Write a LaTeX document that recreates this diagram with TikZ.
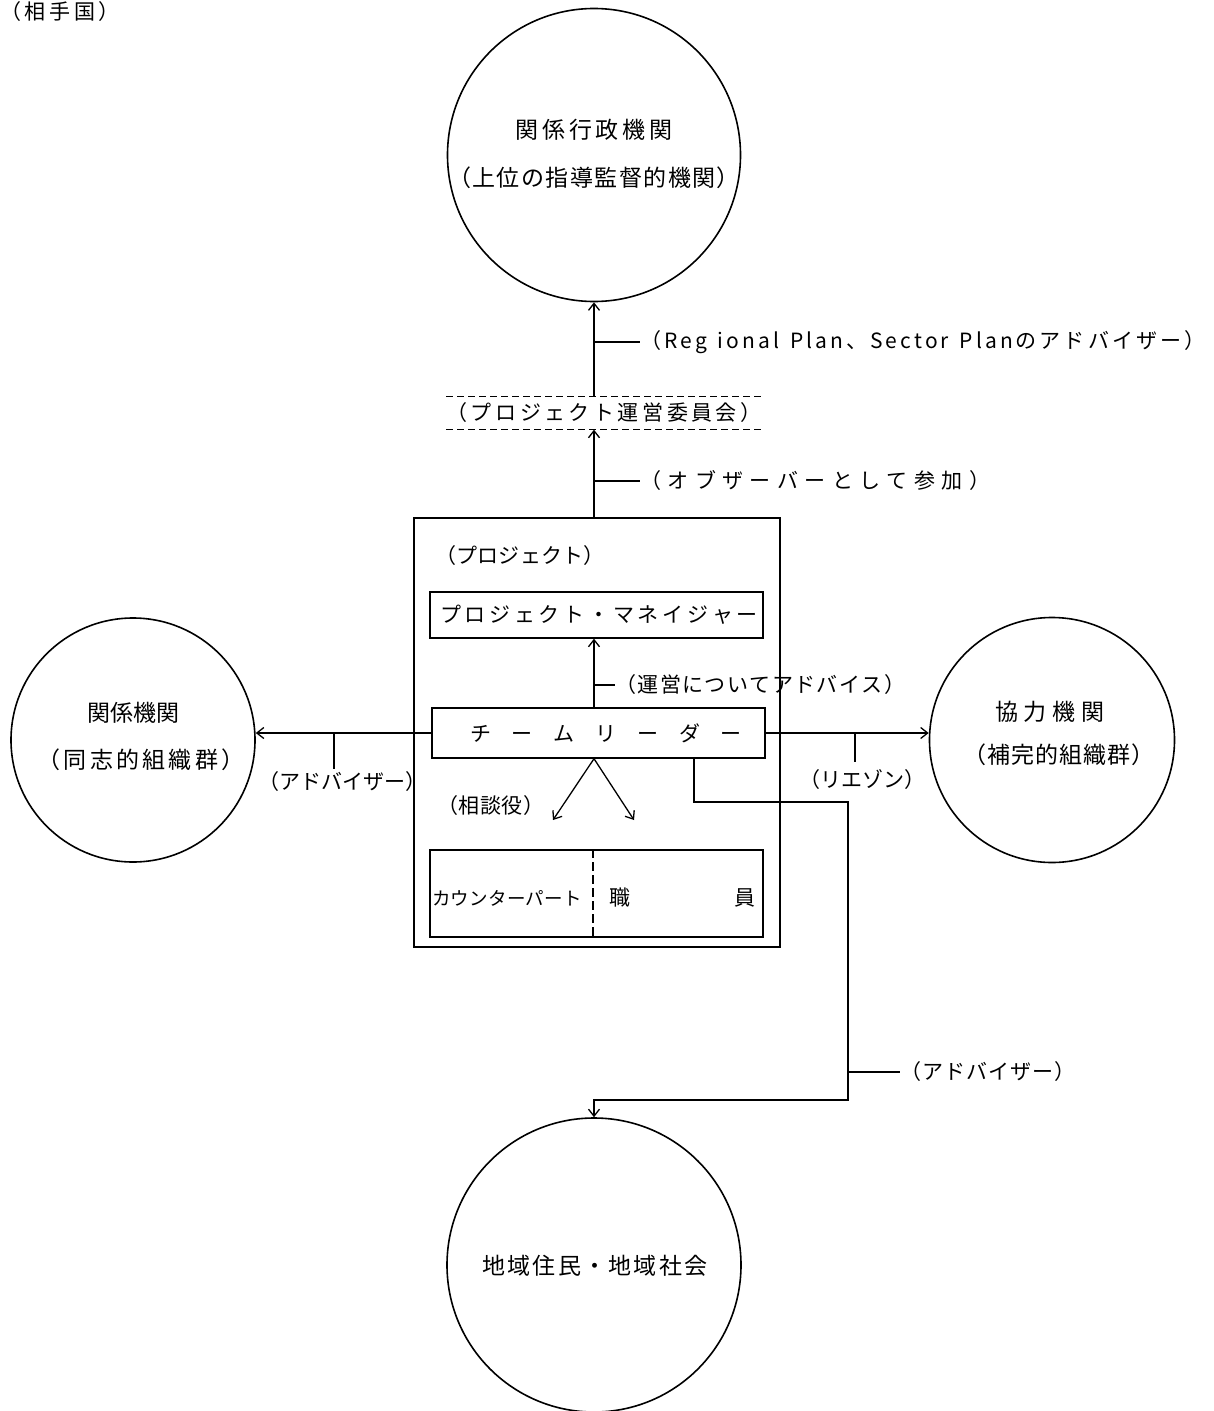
\documentclass[tikz,border=0pt]{standalone}
\usepackage{fontspec}
\newfontfamily\jp{Noto Sans CJK JP}
\usetikzlibrary{arrows.meta}
\def\spreadend{}
\def\spreadaux#1#2{#1\ifx#2\spreadend\else\hfill\expandafter\spreadaux\expandafter#2\fi}
\newcommand\spreadto[2]{\makebox[#1][s]{\spreadaux#2\spreadend}}
\begin{document}
\begin{tikzpicture}[x=1pt,y=-1pt,
  circ/.style={draw, circle, line width=1.6pt, inner sep=0pt},
  box/.style={draw, line width=1.4pt, inner sep=0pt},
  txt/.style={font=\jp\fontsize{21}{25}\selectfont, inner sep=0pt},
  big/.style={font=\jp\fontsize{23}{27}\selectfont, inner sep=0pt},
  sml/.style={font=\jp\fontsize{18.5}{22}\selectfont, inner sep=0pt},
  ln/.style={line width=1.3pt},
  arr/.style={line width=1.3pt, -{Straight Barb[length=7pt,width=11pt,line width=1.3pt]}}]
\useasboundingbox (0,0) rectangle (1213,1411);
\fill[white] (0,0) rectangle (1213,1411);

% header
\node[txt] (hdr) at (60,12) {\spreadto{120pt}{（相手国）}};

% circles
\node[circ, minimum size=293pt] (top) at (594,155) {};
\node[circ, minimum size=244pt] (lc) at (133,740) {};
\node[circ, minimum size=245pt] (rc) at (1052,740) {};
\node[circ, minimum size=294pt] (bc) at (594,1265) {};

\node[big] (topa) at (594,130) {\spreadto{157pt}{関係行政機関}};
\node[big] (topb) at (594,178) {\spreadto{292pt}{（上位の指導監督的機関）}};
\node[big] (lca) at (133,713) {\spreadto{92pt}{関係機関}};
\node[big] (lcb) at (141,760) {\spreadto{207pt}{（同志的組織群）}};
\node[big] (rca) at (1050,712) {\spreadto{110pt}{協力機関}};
\node[big] (rcb) at (1059,755) {\spreadto{192pt}{（補完的組織群）}};
\node[big] (bca) at (595,1266) {\spreadto{225pt}{地域住民・地域社会}};

% project boxes
\node[box, line width=2pt, minimum width=366pt, minimum height=429pt] (pj) at (597,732.5) {};
\node[txt] (pjl) at (520,556) {\spreadto{170pt}{（プロジェクト）}};
\node[box, minimum width=333pt, minimum height=46pt] (pm) at (596.5,615) {};
\node[txt] (pmt) at (599,615) {\spreadto{318pt}{プロジェクト・マネイジャー}};
\node[box, minimum width=333pt, minimum height=50pt] (tl) at (598.5,733) {};
\node[txt] (tlt) at (606,733) {\spreadto{272pt}{チームリーダー}};
\node[box, minimum width=333pt, minimum height=87pt] (cp) at (596.5,893.5) {};
\coordinate (dv) at (593,0);
\draw[ln, dash pattern=on 9pt off 4pt] (cp.north -| dv) -- (cp.south -| dv);
\node[sml] (cpa) at (507,898) {\spreadto{150pt}{カウンターパート}};
\node[txt] (cpb) at (620,898) {職};
\node[txt] (cpc) at (745,898) {員};

% committee
\node[txt, minimum width=315pt, minimum height=33pt] (cmt) at (604,413) {\spreadto{315pt}{（プロジェクト運営委員会）}};
\draw[ln, dash pattern=on 7pt off 4pt] (cmt.north west) -- (cmt.north east);
\draw[ln, dash pattern=on 7pt off 4pt] (cmt.south west) -- (cmt.south east);

% vertical main connectors
\draw[arr] (pj.north -| top.south) -- (cmt.south -| top.south);
\draw[arr] (cmt.north -| top.south) -- (top.south);
\draw[arr] (tl.north -| top.south) -- (pm.south -| top.south);

% labels with ticks on the main line
\node[txt, anchor=west] (l1) at (640,342) {\spreadto{565pt}{（Reg~ional~Plan、Sector~Planのアドバイザー）}};
\draw[ln] (l1.west -| top.south) -- (l1.west);
\node[txt, anchor=west] (l2) at (640,481) {\spreadto{350pt}{（オブザーバーとして参加）}};
\draw[ln] (l2.west -| top.south) -- (l2.west);
\node[txt, anchor=west] (l3) at (615,685) {\spreadto{290pt}{（運営についてアドバイス）}};
\draw[ln] (l3.west -| top.south) -- (l3.west);

% left connector
\draw[arr] (tl.west) -- (tl.west -| lc.east);
\node[txt] (la) at (334,782) {\spreadto{152pt}{（アドバイザー）}};
\draw[ln] (la.north |- tl.west) -- ([yshift=3pt]la.north);

% right connector
\draw[arr] (tl.east) -- (tl.east -| rc.west);
\node[txt] (lr) at (862,780) {\spreadto{125pt}{（リエゾン）}};
\coordinate (rk) at (855,0);
\draw[ln] (tl.east -| rk) -- ([yshift=8pt]lr.north -| rk);

% consultant arrows
\coordinate (sa) at (553,820);
\coordinate (sb) at (634,820);
\draw[arr] (tl.south -| top.south) -- (sa);
\draw[arr] (tl.south -| top.south) -- (sb);
\node[txt] (ls) at (491,806) {\spreadto{107pt}{（相談役）}};

% route to bottom circle
\coordinate (r0) at (694,0);
\coordinate (r1) at (848,802);
\coordinate (r2) at (848,1100);
\draw[arr] (tl.south -| r0) |- (r1) -- (r2) -| (bc.north);
\node[txt, anchor=west] (lb) at (900,1072) {\spreadto{175pt}{（アドバイザー）}};
\draw[ln] (lb.west -| r1) -- (lb.west);
\end{tikzpicture}
\end{document}
